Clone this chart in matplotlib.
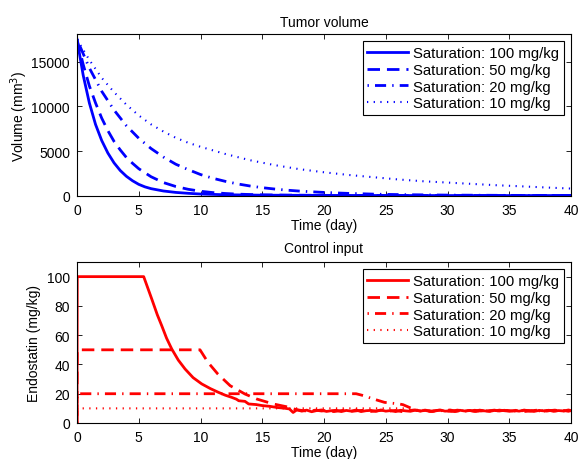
import numpy as np
import matplotlib
matplotlib.use("Agg")
import matplotlib.pyplot as plt

plt.rcParams['font.family'] = ['Liberation Sans', 'DejaVu Sans']
plt.rcParams['font.size'] = 10

labels = ["Saturation: 100 mg/kg", "Saturation: 50 mg/kg",
          "Saturation: 20 mg/kg", "Saturation: 10 mg/kg"]

# ---------------- Tumor volume (mm^3) ----------------
vt_100 = [0, 0.5, 1, 1.5, 2, 2.5, 3, 3.5, 4, 4.5, 5, 5.5, 6, 7, 8, 9, 10, 12, 15, 20, 25, 30, 40]
vv_100 = [17500, 13500, 10400, 8000, 6200, 4800, 3700, 2850, 2200, 1700, 1300, 1020, 820, 560, 400,
          300, 220, 140, 90, 65, 55, 50, 50]

vt_50 = [0, 0.5, 1, 1.5, 2, 2.5, 3, 3.5, 4, 4.5, 5, 6, 7, 8, 9, 10, 11, 12, 13, 14, 15, 17, 20, 25, 30, 40]
vv_50 = [17500, 14700, 12300, 10400, 8700, 7300, 6100, 5150, 4300, 3650, 3050, 2150, 1500, 1060, 750,
         530, 380, 280, 210, 165, 130, 95, 70, 55, 50, 50]

vt_20 = [0, 1, 2, 3, 4, 5, 6, 7, 8, 9, 10, 11, 12, 13, 14, 15, 16, 17, 18, 19, 20, 21, 22, 23, 24, 25,
         27, 30, 35, 40]
vv_20 = [17500, 14300, 11700, 9600, 7850, 6450, 5300, 4350, 3550, 2950, 2400, 1980, 1640, 1350, 1120,
         930, 780, 650, 550, 470, 400, 340, 290, 250, 210, 180, 140, 100, 70, 60]

vt_10 = [0, 1, 2, 3, 4, 5, 6, 7, 8, 9, 10, 12, 14, 16, 18, 20, 22, 24, 26, 28, 30, 32, 34, 36, 38, 40]
vv_10 = [17500, 15200, 13200, 11600, 10200, 9000, 8000, 7200, 6500, 5950, 5500, 4700, 4000, 3450,
         3000, 2650, 2350, 2100, 1850, 1650, 1500, 1350, 1200, 1080, 950, 830]

# ---------------- Control input (mg/kg) ----------------
ct_100 = [0, 0.02, 5.4, 6.05, 6.5, 6.86, 7.25, 7.67, 8.2, 8.75, 9.4, 10.1, 10.8, 11.44, 12.0, 12.5,
          12.9, 13.1, 13.6, 13.9, 14.5, 15.0, 15.6, 16.2, 16.8, 17.2, 17.5, 17.8,
          18.2, 18.6, 19.0, 19.4, 19.8, 20.2, 20.6, 21.0, 21.4, 21.8, 22.2, 22.6, 23.0, 23.4, 23.8,
          24.2, 24.6, 25.0, 25.4, 25.8, 26.2, 26.6, 27.0, 27.4, 27.8, 28.2, 28.6, 29.0, 29.4, 29.8,
          30.2, 30.6, 31.0, 31.4, 31.8, 32.2, 32.6, 33.0, 33.4, 33.8, 34.2, 34.6, 35.0, 35.4, 35.8,
          36.2, 36.6, 37.0, 37.4, 37.8, 38.2, 38.6, 39.0, 39.4, 39.8, 40.0]
cu_100 = [0, 100, 100, 84.8, 74, 66.5, 58, 50.6, 43, 36.9, 31, 26.7, 23.5, 21, 19, 17.6,
          16.3, 15.2, 14.8, 13.0, 12.6, 11.9, 11.4, 10.6, 10.1, 9.6, 7.2, 9.0,
          8.1, 8.8, 7.7, 8.5, 8.9, 7.9, 8.4, 8.7, 7.8, 8.6, 8.1, 8.9, 7.8, 8.4, 8.6,
          8.0, 8.9, 8.1, 8.5, 7.8, 8.7, 8.3, 8.0, 8.8, 8.2, 8.6, 7.9, 8.4, 8.9, 8.1,
          8.3, 7.8, 8.7, 8.2, 8.5, 8.0, 8.8, 8.3, 7.9, 8.6, 8.2, 8.7, 8.0, 8.5, 8.1,
          8.8, 8.4, 7.9, 8.6, 8.3, 8.7, 8.0, 8.5, 8.2, 8.9, 8.4]

ct_50 = [0, 0.02, 9.96, 10.6, 11.4, 12.4, 13.6, 14.55, 15.9, 17.2, 17.8,
         18.3, 18.8, 19.3, 19.8, 20.3, 20.8, 21.3, 21.8, 22.3, 22.8, 23.3, 23.8, 24.3, 24.8, 25.3,
         25.8, 26.3, 26.8, 27.3, 27.8, 28.3, 28.8, 29.3, 29.8, 30.3, 30.8, 31.3, 31.8, 32.3, 32.8,
         33.3, 33.8, 34.3, 34.8, 35.3, 35.8, 36.3, 36.8, 37.3, 37.8, 38.3, 38.8, 39.3, 39.8, 40.0]
cu_50 = [0, 50, 50, 41.5, 33.5, 25.5, 19.8, 16.4, 13.0, 10.7, 9.0,
         8.5, 7.9, 8.8, 8.2, 8.6, 7.8, 8.4, 8.9, 8.0, 8.5, 8.7, 7.9, 8.3, 8.8, 8.1,
         8.6, 7.8, 8.4, 8.9, 8.2, 8.5, 7.9, 8.7, 8.3, 8.0, 8.8, 8.2, 8.6, 7.9, 8.5,
         8.3, 8.8, 8.0, 8.6, 8.2, 8.7, 7.9, 8.4, 8.8, 8.1, 8.5, 8.3, 8.7, 8.0, 8.6]

ct_20 = [0, 0.02, 22.6, 23.2, 24.0, 24.9, 26.1, 26.4, 27.2,
         27.7, 28.2, 28.7, 29.2, 29.7, 30.2, 30.7, 31.2, 31.7, 32.2, 32.7, 33.2, 33.7, 34.2, 34.7,
         35.2, 35.7, 36.2, 36.7, 37.2, 37.7, 38.2, 38.7, 39.2, 39.7, 40.0]
cu_20 = [0, 20, 20, 18.7, 16.4, 14.1, 13.0, 12.5, 9.6,
         8.4, 8.8, 8.0, 8.6, 8.3, 8.9, 8.1, 8.5, 7.9, 8.7, 8.2, 8.6, 8.0, 8.8, 8.3,
         8.5, 7.9, 8.7, 8.2, 8.6, 8.0, 8.4, 8.8, 8.1, 8.5, 8.3]

ct_10 = [0, 0.02, 26.5, 27.0,
         27.5, 28.0, 28.5, 29.0, 29.5, 30.0, 30.5, 31.0, 31.5, 32.0, 32.5, 33.0, 33.5, 34.0, 34.5,
         35.0, 35.5, 36.0, 36.5, 37.0, 37.5, 38.0, 38.5, 39.0, 39.5, 40.0]
cu_10 = [0, 10, 10, 9.2,
         8.6, 8.9, 8.2, 8.7, 8.4, 8.9, 8.1, 8.6, 8.3, 8.8, 8.0, 8.5, 8.7, 8.2, 8.6,
         8.4, 8.9, 8.1, 8.5, 8.3, 8.8, 8.2, 8.6, 8.0, 8.5, 8.4]

styles = [dict(linestyle='-'),
          dict(linestyle=(0, (4.5, 2.5))),
          dict(linestyle=(0, (0.5, 2.2, 4.0, 2.2))),
          dict(linestyle=(0, (0.6, 2.6)))]

fig = plt.figure(figsize=(5.79, 4.60), dpi=100)
ax1 = fig.add_axes([77/579, (460-197)/460, 494/579, 162/460])
ax2 = fig.add_axes([77/579, (460-424)/460, 494/579, 161/460])

vol = [(vt_100, vv_100), (vt_50, vv_50), (vt_20, vv_20), (vt_10, vv_10)]
ctl = [(ct_100, cu_100), (ct_50, cu_50), (ct_20, cu_20), (ct_10, cu_10)]

lws = [2, 2, 2, 1.5]
for (t, v), st, lab, lw in zip(vol, styles, labels, lws):
    ax1.plot(t, v, color='#0000ff', lw=lw, label=lab, **st)
for (t, v), st, lab, lw in zip(ctl, styles, labels, lws):
    ax2.plot(t, v, color='#ff0000', lw=lw, label=lab, **st)

ax1.set_xlim(0, 40)
ax1.set_ylim(0, 18100)
ax1.set_yticks([0, 5000, 10000, 15000])
ax2.set_xlim(0, 40)
ax2.set_ylim(0, 110)
ax2.set_yticks([0, 20, 40, 60, 80, 100])

ax1.set_title("Tumor volume", fontsize=10, pad=6)
ax2.set_title("Control input", fontsize=10, pad=7)
ax1.set_xlabel("Time (day)", labelpad=1)
ax2.set_xlabel("Time (day)", labelpad=1)
ax1.set_ylabel("Volume (mm$^3$)", labelpad=1)
ax2.set_ylabel("Endostatin (mg/kg)")

for ax in (ax1, ax2):
    ax.set_xticks(range(0, 41, 5))
    ax.tick_params(direction='in', top=True, right=True, length=3.7, width=0.6, labelsize=10, pad=5)
    for sp in ax.spines.values():
        sp.set_linewidth(0.8)
    leg = ax.legend(loc='upper right', fancybox=False, edgecolor='black', framealpha=1,
                    handlelength=2.75, handletextpad=0.3, labelspacing=0.18,
                    borderpad=0.32, borderaxespad=0.5, fontsize=10.7)
    leg.get_frame().set_linewidth(0.8)

fig.savefig("out.png", dpi=100)
